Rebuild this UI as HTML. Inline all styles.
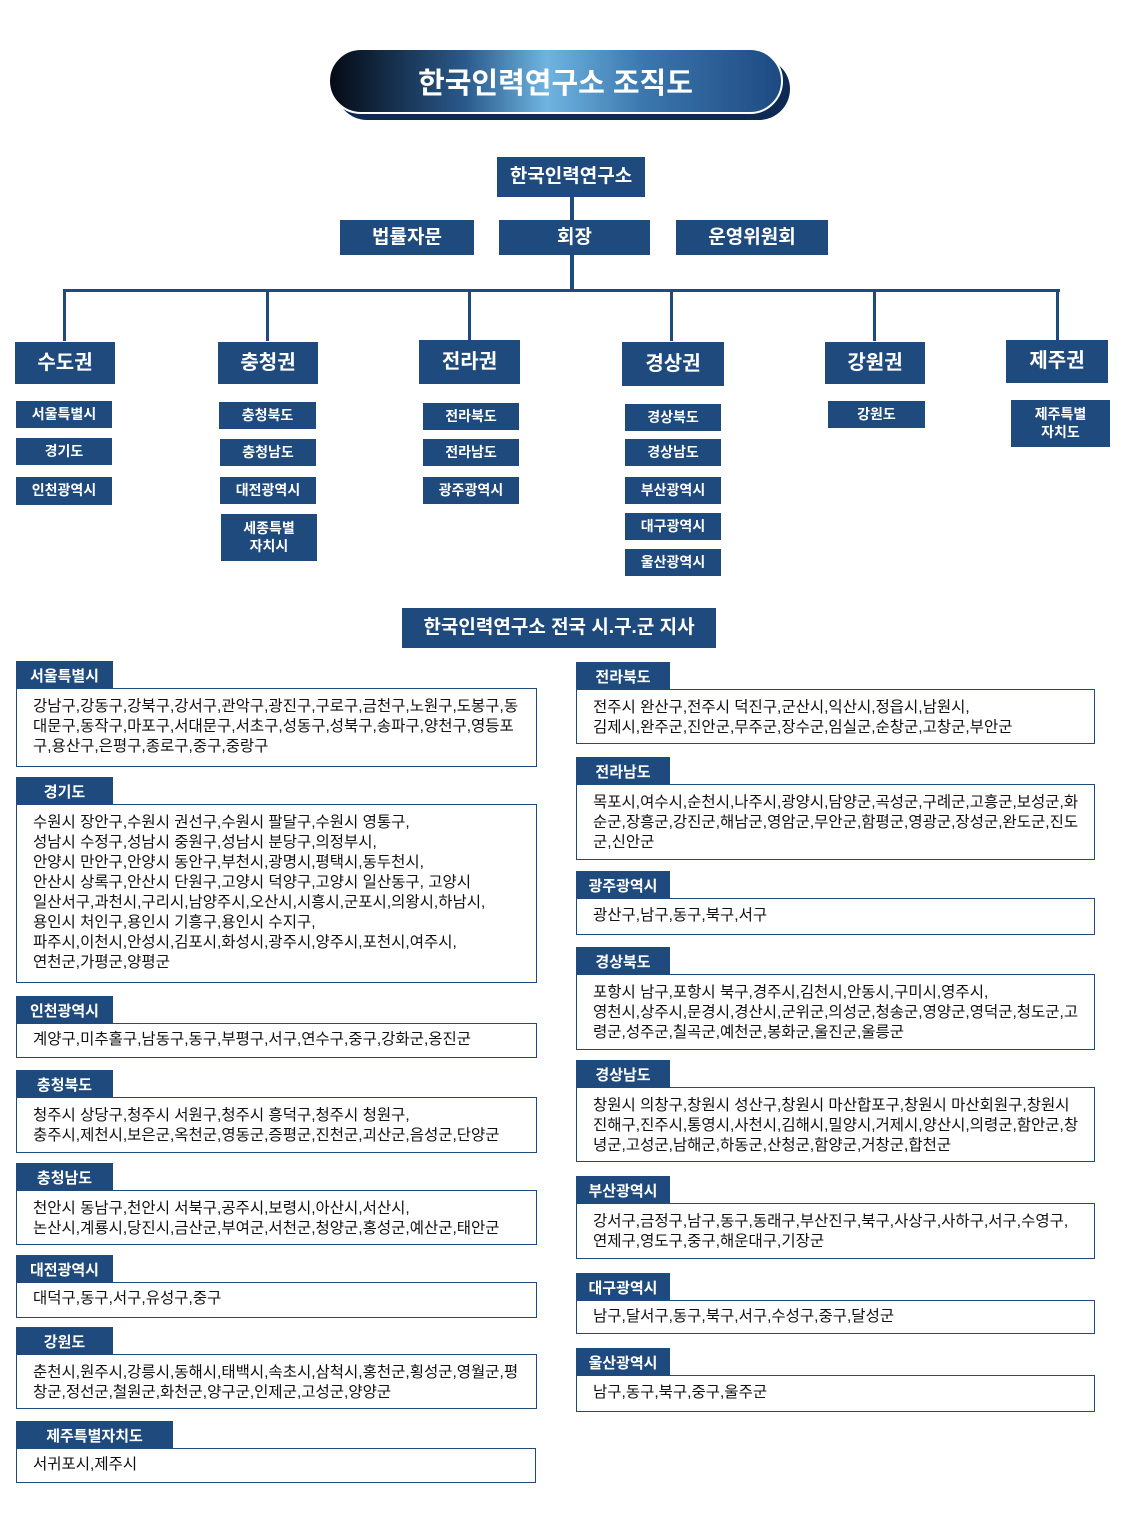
<!DOCTYPE html>
<html><head><meta charset="utf-8"><style>
*{margin:0;padding:0;box-sizing:border-box}
body{width:1134px;height:1518px;background:#fff;position:relative;overflow:hidden;font-family:"Liberation Sans","Noto Sans CJK KR",sans-serif}
.b{position:absolute;background:#1e4a7e;color:#fff;font-weight:bold;display:flex;align-items:center;justify-content:center;text-align:center;line-height:1.25}
.l{position:absolute;background:#1e4a7e}
.bx{position:absolute;border:1.5px solid #1e4a7e;padding:8px 0 0 16px;font-size:15.5px;line-height:20px;color:#111;letter-spacing:0;white-space:nowrap;overflow:hidden}
.t{position:absolute;background:#1e4a7e;color:#fff;font-weight:bold;font-size:15px;height:28px;display:flex;align-items:center;justify-content:center}
</style></head><body>
<div style="position:absolute;left:336px;top:58px;width:454px;height:62px;border-radius:31px;background:#0d2a55"></div>
<div style="position:absolute;left:328px;top:48px;width:455px;height:66px;border-radius:33px;background:linear-gradient(90deg,#050a14 0%,#2a5a8c 30%,#6fb4e0 48%,#3a76ac 70%,#1e4a82 100%);border:2px solid #fff;color:#fff;font-size:29px;font-weight:bold;display:flex;align-items:center;justify-content:center">한국인력연구소 조직도</div>

<div class="b" style="left:497px;top:157px;width:148px;height:40px;font-size:19px">한국인력연구소</div>
<div class="l" style="left:570px;top:197px;width:4px;height:94px"></div>
<div class="b" style="left:340px;top:220px;width:134px;height:35px;font-size:19px">법률자문</div>
<div class="b" style="left:499px;top:220px;width:151px;height:35px;font-size:19px">회장</div>
<div class="b" style="left:676px;top:220px;width:152px;height:35px;font-size:19px">운영위원회</div>
<div class="l" style="left:63px;top:289px;width:997px;height:3px"></div>
<div class="l" style="left:63px;top:289px;width:3px;height:52px"></div>
<div class="l" style="left:266px;top:289px;width:3px;height:52px"></div>
<div class="l" style="left:468px;top:289px;width:3px;height:52px"></div>
<div class="l" style="left:670px;top:289px;width:3px;height:52px"></div>
<div class="l" style="left:873px;top:289px;width:3px;height:52px"></div>
<div class="l" style="left:1056px;top:289px;width:3px;height:52px"></div>

<div class="b" style="left:15px;top:342px;width:100px;height:42px;font-size:20px">수도권</div>
<div class="b" style="left:218px;top:342px;width:100px;height:42px;font-size:20px">충청권</div>
<div class="b" style="left:419px;top:340px;width:101px;height:44px;font-size:20px">전라권</div>
<div class="b" style="left:622px;top:342px;width:102px;height:44px;font-size:20px">경상권</div>
<div class="b" style="left:825px;top:342px;width:100px;height:42px;font-size:20px">강원권</div>
<div class="b" style="left:1006px;top:340px;width:102px;height:43px;font-size:20px">제주권</div>

<div class="b" style="left:16px;top:401px;width:96px;height:27px;font-size:14px">서울특별시</div>
<div class="b" style="left:16px;top:438px;width:96px;height:27px;font-size:14px">경기도</div>
<div class="b" style="left:16px;top:477px;width:96px;height:28px;font-size:14px">인천광역시</div>
<div class="b" style="left:219px;top:402px;width:97px;height:27px;font-size:14px">충청북도</div>
<div class="b" style="left:220px;top:439px;width:96px;height:27px;font-size:14px">충청남도</div>
<div class="b" style="left:220px;top:477px;width:96px;height:27px;font-size:14px">대전광역시</div>
<div class="b" style="left:221px;top:514px;width:96px;height:47px;font-size:14px">세종특별<br>자치시</div>
<div class="b" style="left:423px;top:403px;width:96px;height:27px;font-size:14px">전라북도</div>
<div class="b" style="left:423px;top:439px;width:96px;height:27px;font-size:14px">전라남도</div>
<div class="b" style="left:423px;top:477px;width:96px;height:27px;font-size:14px">광주광역시</div>
<div class="b" style="left:625px;top:404px;width:96px;height:27px;font-size:14px">경상북도</div>
<div class="b" style="left:625px;top:439px;width:96px;height:27px;font-size:14px">경상남도</div>
<div class="b" style="left:625px;top:477px;width:96px;height:27px;font-size:14px">부산광역시</div>
<div class="b" style="left:625px;top:513px;width:96px;height:27px;font-size:14px">대구광역시</div>
<div class="b" style="left:625px;top:549px;width:96px;height:27px;font-size:14px">울산광역시</div>
<div class="b" style="left:828px;top:401px;width:97px;height:27px;font-size:14px">강원도</div>
<div class="b" style="left:1011px;top:400px;width:99px;height:47px;font-size:14px">제주특별<br>자치도</div>

<div class="b" style="left:402px;top:608px;width:314px;height:40px;font-size:19px">한국인력연구소 전국 시.구.군 지사</div>

<div class="t" style="left:16px;top:661px;width:97px">서울특별시</div>
<div class="bx" style="left:16px;top:688px;width:521px;height:79px">강남구,강동구,강북구,강서구,관악구,광진구,구로구,금천구,노원구,도봉구,동<br>대문구,동작구,마포구,서대문구,서초구,성동구,성북구,송파구,양천구,영등포<br>구,용산구,은평구,종로구,중구,중랑구</div>
<div class="t" style="left:16px;top:777px;width:97px">경기도</div>
<div class="bx" style="left:16px;top:804px;width:521px;height:179px">수원시 장안구,수원시 권선구,수원시 팔달구,수원시 영통구,<br>성남시 수정구,성남시 중원구,성남시 분당구,의정부시,<br>안양시 만안구,안양시 동안구,부천시,광명시,평택시,동두천시,<br>안산시 상록구,안산시 단원구,고양시 덕양구,고양시 일산동구, 고양시<br>일산서구,과천시,구리시,남양주시,오산시,시흥시,군포시,의왕시,하남시,<br>용인시 처인구,용인시 기흥구,용인시 수지구,<br>파주시,이천시,안성시,김포시,화성시,광주시,양주시,포천시,여주시,<br>연천군,가평군,양평군</div>
<div class="t" style="left:16px;top:996px;width:97px">인천광역시</div>
<div class="bx" style="left:16px;top:1023px;width:521px;height:35px;padding-top:6px">계양구,미추홀구,남동구,동구,부평구,서구,연수구,중구,강화군,옹진군</div>
<div class="t" style="left:16px;top:1070px;width:97px">충청북도</div>
<div class="bx" style="left:16px;top:1097px;width:521px;height:56px">청주시 상당구,청주시 서원구,청주시 흥덕구,청주시 청원구,<br>충주시,제천시,보은군,옥천군,영동군,증평군,진천군,괴산군,음성군,단양군</div>
<div class="t" style="left:16px;top:1163px;width:97px">충청남도</div>
<div class="bx" style="left:16px;top:1190px;width:521px;height:55px">천안시 동남구,천안시 서북구,공주시,보령시,아산시,서산시,<br>논산시,계룡시,당진시,금산군,부여군,서천군,청양군,홍성군,예산군,태안군</div>
<div class="t" style="left:16px;top:1255px;width:97px">대전광역시</div>
<div class="bx" style="left:16px;top:1282px;width:521px;height:36px;padding-top:6px">대덕구,동구,서구,유성구,중구</div>
<div class="t" style="left:16px;top:1327px;width:97px">강원도</div>
<div class="bx" style="left:16px;top:1354px;width:521px;height:55px">춘천시,원주시,강릉시,동해시,태백시,속초시,삼척시,홍천군,횡성군,영월군,평<br>창군,정선군,철원군,화천군,양구군,인제군,고성군,양양군</div>
<div class="t" style="left:16px;top:1421px;width:157px">제주특별자치도</div>
<div class="bx" style="left:16px;top:1448px;width:520px;height:35px;padding-top:6px">서귀포시,제주시</div>

<div class="t" style="left:576px;top:662px;width:94px">전라북도</div>
<div class="bx" style="left:576px;top:689px;width:519px;height:55px">전주시 완산구,전주시 덕진구,군산시,익산시,정읍시,남원시,<br>김제시,완주군,진안군,무주군,장수군,임실군,순창군,고창군,부안군</div>
<div class="t" style="left:576px;top:757px;width:94px">전라남도</div>
<div class="bx" style="left:576px;top:784px;width:519px;height:76px">목포시,여수시,순천시,나주시,광양시,담양군,곡성군,구례군,고흥군,보성군,화<br>순군,장흥군,강진군,해남군,영암군,무안군,함평군,영광군,장성군,완도군,진도<br>군,신안군</div>
<div class="t" style="left:576px;top:871px;width:94px">광주광역시</div>
<div class="bx" style="left:576px;top:898px;width:519px;height:37px;padding-top:7px">광산구,남구,동구,북구,서구</div>
<div class="t" style="left:576px;top:947px;width:94px">경상북도</div>
<div class="bx" style="left:576px;top:974px;width:519px;height:76px">포항시 남구,포항시 북구,경주시,김천시,안동시,구미시,영주시,<br>영천시,상주시,문경시,경산시,군위군,의성군,청송군,영양군,영덕군,청도군,고<br>령군,성주군,칠곡군,예천군,봉화군,울진군,울릉군</div>
<div class="t" style="left:576px;top:1060px;width:94px">경상남도</div>
<div class="bx" style="left:576px;top:1087px;width:519px;height:75px">창원시 의창구,창원시 성산구,창원시 마산합포구,창원시 마산회원구,창원시<br>진해구,진주시,통영시,사천시,김해시,밀양시,거제시,양산시,의령군,함안군,창<br>녕군,고성군,남해군,하동군,산청군,함양군,거창군,합천군</div>
<div class="t" style="left:576px;top:1176px;width:94px">부산광역시</div>
<div class="bx" style="left:576px;top:1203px;width:519px;height:56px">강서구,금정구,남구,동구,동래구,부산진구,북구,사상구,사하구,서구,수영구,<br>연제구,영도구,중구,해운대구,기장군</div>
<div class="t" style="left:576px;top:1273px;width:94px">대구광역시</div>
<div class="bx" style="left:576px;top:1300px;width:519px;height:34px;padding-top:6px">남구,달서구,동구,북구,서구,수성구,중구,달성군</div>
<div class="t" style="left:576px;top:1348px;width:94px">울산광역시</div>
<div class="bx" style="left:576px;top:1375px;width:519px;height:37px;padding-top:7px">남구,동구,북구,중구,울주군</div>
</body></html>
